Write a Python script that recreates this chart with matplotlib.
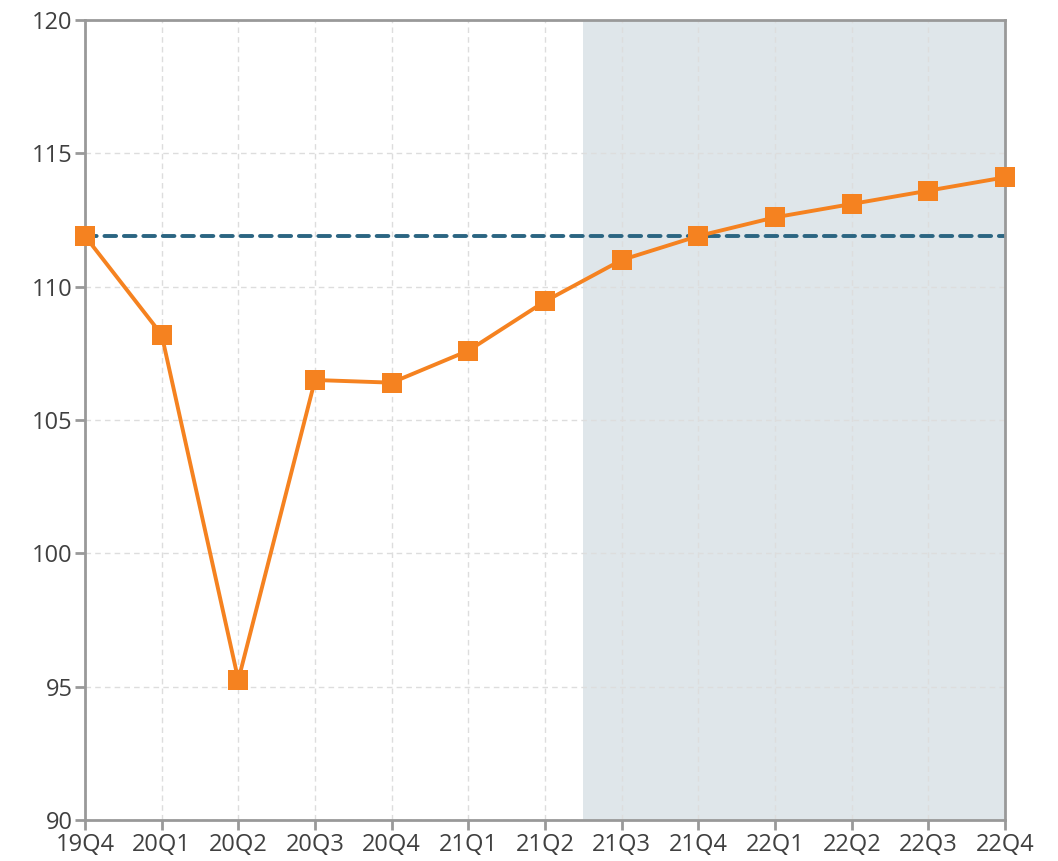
import matplotlib
matplotlib.use("Agg")
import matplotlib.pyplot as plt

quarters = ["19Q4", "20Q1", "20Q2", "20Q3", "20Q4", "21Q1", "21Q2",
            "21Q3", "21Q4", "22Q1", "22Q2", "22Q3", "22Q4"]
values = [111.9, 108.2, 95.25, 106.5, 106.4, 107.6, 109.45,
          111.0, 111.9, 112.6, 113.1, 113.6, 114.1]
baseline = 111.9
shade_start = 6.5
yticks = [90, 95, 100, 105, 110, 115, 120]

plt.rcParams['font.family'] = ['Open Sans', 'DejaVu Sans']

fig = plt.figure(figsize=(10.58, 8.61), dpi=100)
ax = fig.add_axes([0.0803, 0.0476, 0.8697, 0.9292])

x = list(range(len(quarters)))
ax.axvspan(shade_start, len(quarters) - 1, color='#dfe6ea', zorder=0, lw=0)
ax.axhline(baseline, color='#2b6582', lw=2.8, ls=(0, (3, 2)),
           dash_capstyle='round', zorder=2)
ax.plot(x, values, color='#f58220', lw=2.8, marker='s', markersize=14.5,
        markeredgewidth=0, zorder=3, clip_on=False)

ax.set_xlim(0, len(quarters) - 1)
ax.set_ylim(90, 120)
ax.set_xticks(x)
ax.set_xticklabels(quarters)
ax.set_yticks(yticks)
ax.grid(True, color='#dddddd', ls=(0, (4, 3)), lw=1.0, zorder=1)
ax.set_axisbelow(True)

for s in ax.spines.values():
    s.set_color('#999999')
    s.set_linewidth(2.0)
ax.tick_params(axis='both', colors='#999999', width=2, length=7,
               labelsize=17, labelcolor='#404040', pad=2)

fig.savefig('out.png', dpi=100)
